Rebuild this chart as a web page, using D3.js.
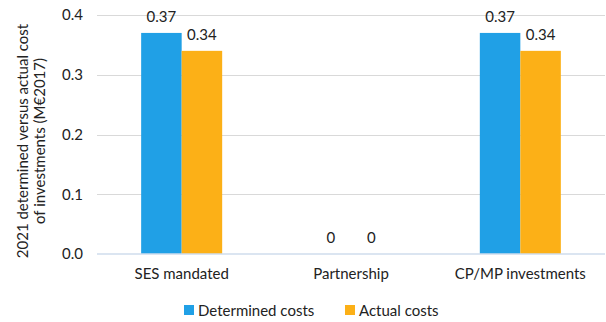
<!DOCTYPE html>
<html><head><meta charset="utf-8">
<script src="https://cdn.jsdelivr.net/npm/d3@7"></script>
<style>body{margin:0;background:#fff}svg{display:block}text{font-family:Lato,"Open Sans",sans-serif;fill:#222}</style>
</head><body>
<script>
const categories = ["SES mandated", "Partnership", "CP/MP investments"];
const seriesNames = ["Determined costs", "Actual costs"];
const determined = [0.37, 0, 0.37];
const actual = [0.34, 0, 0.34];
const valueLabels = [["0.37","0","0.37"],["0.34","0","0.34"]];
const yTicks = [0, 0.1, 0.2, 0.3, 0.4];
const colors = ["#20A0E6", "#FCB017"];
const yTitle = ["2021 determined versus actual cost", "of investments (M€2017)"];

const W = 606, H = 322;
const svg = d3.select("body").append("svg").attr("width", W).attr("height", H);
const mLeft = 97, mRight = 605, mTop = 15, mBottom = 254;
const x = d3.scaleBand().domain(categories).range([mLeft, mRight]).paddingInner(0).paddingOuter(0);
const x1 = d3.scaleBand().domain(seriesNames).range([0, x.bandwidth()]).paddingInner(0).paddingOuter(1.09);
const y = d3.scaleLinear().domain([0, 0.4]).range([mBottom, mTop]);

// gridlines
svg.append("g").selectAll("line").data(yTicks.filter(d => d > 0)).join("line")
  .attr("x1", mLeft).attr("x2", mRight).attr("y1", d => Math.round(y(d)) + 0.5).attr("y2", d => Math.round(y(d)) + 0.5)
  .attr("stroke", "#d9d9d9").attr("stroke-width", 1);

// y axis
const ya = svg.append("g").attr("transform", `translate(${mLeft},0)`)
  .call(d3.axisLeft(y).tickValues(yTicks).tickFormat(d3.format(".1f")).tickSize(0).tickPadding(14));
ya.select(".domain").remove();
ya.selectAll("text").attr("font-size", 15).attr("font-family", "Lato, sans-serif").attr("fill", "#222");

const data = [determined, actual];
const groups = svg.append("g").selectAll("g").data(seriesNames).join("g").attr("fill", (d, i) => colors[i]);
groups.selectAll("rect").data((s, i) => categories.map((c, j) => ({c, s, v: data[i][j]})))
  .join("rect")
  .attr("x", d => x(d.c) + x1(d.s)).attr("width", x1.bandwidth())
  .attr("y", d => y(d.v)).attr("height", d => y(0) - y(d.v));

// value labels
svg.append("g").selectAll("text").data(seriesNames.flatMap((s, i) => categories.map((c, j) => ({c, s, v: data[i][j], lbl: valueLabels[i][j]}))))
  .join("text")
  .attr("x", d => x(d.c) + x1(d.s) + x1.bandwidth() / 2)
  .attr("y", d => y(d.v) - 11)
  .attr("text-anchor", "middle").attr("font-size", 15).text(d => d.lbl);

// x axis
svg.append("line").attr("x1", mLeft).attr("x2", mRight).attr("y1", y(0)).attr("y2", y(0))
  .attr("stroke", "#cfdcec").attr("stroke-width", 1.5);
const xa = svg.append("g").attr("transform", `translate(0,${y(0)})`)
  .call(d3.axisBottom(x).tickSize(0).tickPadding(14));
xa.select(".domain").remove();
xa.selectAll("text").attr("font-size", 15).attr("font-family", "Lato, sans-serif").attr("fill", "#222");

// y title
const yt = svg.append("text").attr("transform", `translate(28,141) rotate(-90)`)
  .attr("text-anchor", "middle").attr("font-size", 15);
yt.selectAll("tspan").data(yTitle).join("tspan").attr("x", 0).attr("dy", (d, i) => i ? 17 : 0).text(d => d);

// legend
const legX = [184, 345];
const leg = svg.append("g").selectAll("g").data(seriesNames).join("g")
  .attr("transform", (d, i) => `translate(${legX[i]},310)`);
leg.append("rect").attr("x", 0).attr("y", -5).attr("width", 10).attr("height", 10).attr("fill", (d, i) => colors[i]);
leg.append("text").attr("x", 14).attr("y", 5.5).attr("font-size", 15).text(d => d);
</script>
</body></html>
